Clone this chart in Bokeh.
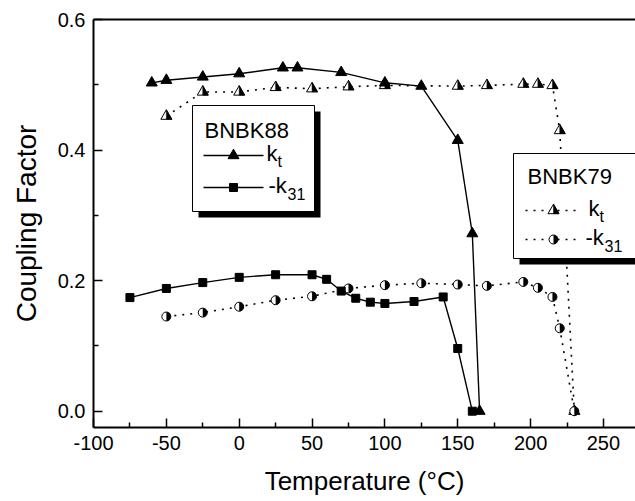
import math

from bokeh.plotting import figure
from bokeh.models import (Range1d, LinearAxis, FixedTicker, PrintfTickFormatter,
                          Label, BoxAnnotation)
from bokeh.embed import file_html
from bokeh.resources import INLINE

# ---- data: coupling factors vs temperature ----
# BNBK88
t88_kt = [-60, -50, -25, 0, 30, 40, 70, 100, 125, 150, 160, 165]
kt88 = [0.503, 0.507, 0.512, 0.517, 0.526, 0.526, 0.519, 0.503, 0.498, 0.415, 0.272, 0.0]
t88_k31 = [-75, -50, -25, 0, 25, 50, 60, 70, 80, 90, 100, 120, 140, 150, 160]
k31_88 = [0.174, 0.188, 0.197, 0.205, 0.209, 0.209, 0.202, 0.184, 0.173, 0.167, 0.165,
          0.168, 0.175, 0.096, 0.0]
# BNBK79
t79_kt = [-50, -25, 0, 25, 50, 75, 100, 150, 170, 195, 205, 215, 220, 230]
kt79 = [0.452, 0.489, 0.489, 0.496, 0.494, 0.497, 0.499, 0.498, 0.499, 0.501, 0.501,
        0.499, 0.430, 0.0]
t79_k31 = [-50, -25, 0, 25, 50, 75, 100, 125, 150, 170, 195, 205, 215, 220, 230]
k31_79 = [0.145, 0.151, 0.160, 0.170, 0.176, 0.188, 0.193, 0.196, 0.194, 0.192, 0.198,
          0.189, 0.175, 0.127, 0.0]

x_ticks = [-100, -50, 0, 50, 100, 150, 200, 250]
x_minor = [-75, -25, 25, 75, 125, 175, 225]
y_ticks = [0.0, 0.2, 0.4, 0.6]
y_minor = [0.1, 0.3, 0.5]

# ---- layout ----
W, H = 635, 501
FL, FT, FR, FB = 93, 19, 635, 427          # frame edges in canvas pixels
X0, X1 = -100, 272
Y0, Y1 = -0.025, 0.6
FONT = "Liberation Sans"

def dx(px):
    return X0 + (px - FL) * (X1 - X0) / (FR - FL)

def dy(py):
    return Y1 - (py - FT) * (Y1 - Y0) / (FB - FT)

XPP = (X1 - X0) / (FR - FL)   # data units per pixel
YPP = (Y1 - Y0) / (FB - FT)

p = figure(width=W, height=H, output_backend="svg", toolbar_location=None,
           x_range=Range1d(X0, X1), y_range=Range1d(Y0, Y1),
           min_border_left=FL, min_border_top=FT, min_border_right=0,
           min_border_bottom=H - FB)
p.outline_line_color = None
p.xgrid.visible = False
p.ygrid.visible = False
p.background_fill_color = "white"
p.border_fill_color = "white"

for ax in (p.xaxis[0], p.yaxis[0]):
    ax.axis_line_width = 2
    ax.axis_line_color = "black"
    ax.major_tick_in = 9
    ax.major_tick_out = 0
    ax.minor_tick_in = 5
    ax.minor_tick_out = 0
    ax.major_tick_line_width = 1.5
    ax.minor_tick_line_width = 1.5
    ax.major_label_text_font = FONT
    ax.major_label_text_font_size = "20px"
    ax.major_label_text_color = "black"
    ax.axis_label_text_font = FONT
    ax.axis_label_text_font_style = "normal"
    ax.axis_label_text_color = "black"

p.xaxis.ticker = FixedTicker(ticks=x_ticks, minor_ticks=x_minor)
p.xaxis.major_label_overrides = {t: str(t) for t in x_ticks}   # plain hyphen minus
p.yaxis.ticker = FixedTicker(ticks=y_ticks, minor_ticks=y_minor)
p.yaxis.formatter = PrintfTickFormatter(format="%.1f")
p.xaxis.axis_label = "Temperature (°C)"
p.xaxis.axis_label_text_font_size = "26px"
p.yaxis.axis_label = "Coupling Factor"
p.yaxis.axis_label_text_font_size = "28px"
p.xaxis.major_label_standoff = 8
p.yaxis.major_label_standoff = 8
p.xaxis.axis_label_standoff = 13
p.yaxis.axis_label_standoff = 13

# top frame line
top = LinearAxis(ticker=FixedTicker(ticks=[]), axis_line_width=2,
                 major_label_text_font_size="0px", major_tick_in=0, major_tick_out=0,
                 minor_tick_in=0, minor_tick_out=0)
p.add_layout(top, "above")

# ---- marker helpers ----
TRI = 11        # triangle marker size (px)
SQ = 8
CIRC = 9

def half_triangles(xs, ys, level="glyph"):
    r = TRI / 2
    h = r * math.sqrt(3)
    p.scatter(xs, ys, marker="triangle", size=TRI, fill_color="white",
              line_color="black", line_width=1, level=level)
    px, py = [], []
    for x, y in zip(xs, ys):
        top_y = y + (2 * h / 3) * YPP
        bot_y = y - (h / 3) * YPP
        px.append([x, x + r * XPP, x])
        py.append([top_y, bot_y, bot_y])
    p.patches(px, py, fill_color="black", line_color="black", line_width=0.5, level=level)

def half_circles(xs, ys, level="glyph"):
    p.scatter(xs, ys, marker="circle", size=CIRC, fill_color="white",
              line_color="black", line_width=1, level=level)
    p.wedge(xs, ys, radius=CIRC / 2, radius_units="screen",
            start_angle=-math.pi / 2, end_angle=math.pi / 2,
            fill_color="black", line_color=None, level=level)

# ---- data series ----
DOT = "2 6"
p.line(t79_kt, kt79, line_color="black", line_width=1.6, line_dash=DOT)
p.line(t79_k31, k31_79, line_color="black", line_width=1.6, line_dash=DOT)
p.line(t88_kt, kt88, line_color="black", line_width=1.4)
p.line(t88_k31, k31_88, line_color="black", line_width=1.4)

half_triangles(t79_kt, kt79)
half_circles(t79_k31, k31_79)
p.scatter(t88_k31, k31_88, marker="square", size=SQ, fill_color="black", line_color="black")
p.scatter(t88_kt, kt88, marker="triangle", size=TRI, fill_color="black", line_color="black")

# ---- text helper ----
def text(px, py, s, size, baseline="middle", align="left"):
    p.add_layout(Label(x=dx(px), y=dy(py), text=s, text_font=FONT,
                       text_font_size=f"{size}px", text_color="black",
                       text_baseline=baseline, text_align=align, level="overlay"))

# ---- legend boxes with drop shadows ----
def legend_box(l, t, r, b, off=6):
    p.add_layout(BoxAnnotation(left=dx(l + off), right=dx(r + off), top=dy(t + off),
                               bottom=dy(b + off), fill_color="black", fill_alpha=1,
                               line_color=None, level="annotation"))
    p.add_layout(BoxAnnotation(left=dx(l), right=dx(r), top=dy(t), bottom=dy(b),
                               fill_color="white", fill_alpha=1, line_color="black",
                               line_width=1, line_alpha=1, level="annotation"))

def key_label(px, py, sub):
    text(px, py, "k" if sub == "t" else "-k", 22)
    off = 11 if sub == "t" else 19
    text(px + off, py + 8, sub, 16)

# BNBK88
legend_box(192, 105, 314, 211)
text(204, 130, "BNBK88", 22)
ly1, ly2 = 155, 187
p.line([dx(203), dx(263)], [dy(ly1), dy(ly1)], line_color="black", line_width=1.4, level="overlay")
p.scatter([dx(233)], [dy(ly1)], marker="triangle", size=TRI, fill_color="black",
          line_color="black", level="overlay")
p.line([dx(203), dx(263)], [dy(ly2), dy(ly2)], line_color="black", line_width=1.4, level="overlay")
p.scatter([dx(233)], [dy(ly2)], marker="square", size=SQ, fill_color="black",
          line_color="black", level="overlay")
key_label(266, ly1 - 2, "t")
key_label(268, ly2 - 2, "31")

# BNBK79
legend_box(513, 153, 660, 258)
text(527, 176, "BNBK79", 22)
my1, my2 = 210, 239
p.line([dx(525), dx(580)], [dy(my1), dy(my1)], line_color="black", line_width=1.6,
       line_dash=DOT, level="overlay")
half_triangles([dx(553)], [dy(my1)], level="overlay")
p.line([dx(525), dx(580)], [dy(my2), dy(my2)], line_color="black", line_width=1.6,
       line_dash=DOT, level="overlay")
half_circles([dx(553)], [dy(my2)], level="overlay")
key_label(588, my1 - 2, "t")
key_label(585, my2 - 2, "31")

open("out.html", "w").write(file_html(p, INLINE))
